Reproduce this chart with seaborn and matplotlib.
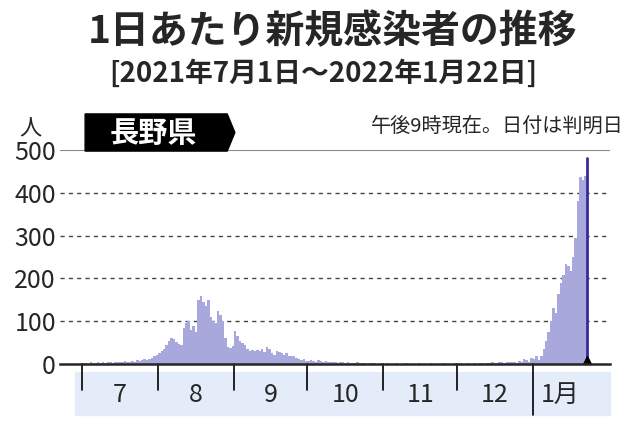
import numpy as np
import matplotlib.pyplot as plt
import seaborn as sns
from matplotlib.patches import Polygon, Rectangle

sns.set_style("white")
plt.rcParams['font.family'] = ['Noto Sans CJK JP', 'DejaVu Sans']

jul = [2,3,1,4,2,3,5,3,4,2,6,5,3,4,6,5,4,7,6,5,8,6,9,7,10,12,9,11,14,18,22]
aug = [25,30,35,45,55,60,58,52,48,45,85,95,100,80,90,75,150,158,145,135,150,110,100,95,125,115,100,60,40,38,42]
sep = [77,65,55,50,45,35,30,33,30,32,30,35,28,40,35,25,22,30,28,25,22,25,20,18,18,15,12,10,12,8]
oct_ = [8,10,7,6,9,8,6,7,5,6,4,5,3,4,5,3,4,3,2,3,4,2,3,2,1,2,3,2,1,2,1]
nov = [1,2,1,0,1,2,1,1,0,2,1,1,0,1,2,1,0,1,1,2,1,0,1,1,2,1,1,0,1,2]
dec = [1,2,1,0,2,1,1,2,1,3,2,1,2,3,4,3,2,5,4,3,4,6,5,4,3,8,5,12,9,6,15]
jan = [12,18,10,20,35,54,75,100,130,120,163,190,209,233,228,218,250,294,380,437,430,440]
month_labels = ['7', '8', '9', '10', '11', '12', '1月']
months = [jul, aug, sep, oct_, nov, dec, jan]

cases = np.concatenate(months)
days = np.arange(len(cases))
bounds = np.concatenate([[0], np.cumsum([len(m) for m in months])])

fig = plt.figure(figsize=(6.4, 4.22), dpi=100)
ax = fig.add_axes([0.094, 0.137, 0.859, 0.508])
ax.bar(days, cases, width=1.0, align='edge', color='#a9a8dc', linewidth=0)
ax.set_xlim(-9, 215.5)
ax.set_ylim(0, 500)
ax.set_yticks([0, 100, 200, 300, 400, 500])
ax.tick_params(axis='y', labelsize=18, length=0, pad=3)
ax.set_xticks([])
for y in [100, 200, 300, 400]:
    ax.axhline(y, color='#444444', lw=1, ls=(0, (3, 3)), zorder=0)
ax.axhline(500, color='#888888', lw=1.5)
for s in ['top', 'right', 'left']:
    ax.spines[s].set_visible(False)
ax.spines['bottom'].set_linewidth(1.8)

end = bounds[-1]
ax.plot([end, end], [0, 480], color='#3a2b9a', lw=2)
ax.plot([end], [10], marker='^', color='black', markersize=6, clip_on=False)

trans = ax.get_xaxis_transform()
ax.add_patch(Rectangle((-3, -0.238), 215.5 + 3, 0.2, transform=trans,
                       color='#e3ecf8', clip_on=False, zorder=0))
for i, b in enumerate(bounds[:-1]):
    low = -0.238 if month_labels[i] == '1月' else -0.12
    ax.plot([b, b], [0, low], transform=trans, color='black', lw=1.2, clip_on=False)
for i, lab in enumerate(month_labels):
    ax.text((bounds[i] + bounds[i + 1]) / 2, -0.145, lab, transform=trans,
            ha='center', va='center', fontsize=18)

fig.text(0.52, 0.925, '1日あたり新規感染者の推移', ha='center', va='center',
         fontsize=28, fontweight='bold')
fig.text(0.505, 0.825, '[2021年7月1日～2022年1月22日]', ha='center', va='center',
         fontsize=20, fontweight='bold')
fig.text(0.03, 0.695, '人', ha='left', va='center', fontsize=16)
fig.text(0.975, 0.7, '午後9時現在。日付は判明日', ha='right', va='center', fontsize=14.5)
fig.patches.append(Polygon([(0.133, 0.73), (0.355, 0.73), (0.367, 0.686),
                            (0.355, 0.642), (0.133, 0.642)], closed=True,
                           transform=fig.transFigure, color='black'))
fig.text(0.24, 0.686, '長野県', ha='center', va='center', fontsize=21,
         fontweight='bold', color='white')

fig.savefig('out.png', dpi=100)
